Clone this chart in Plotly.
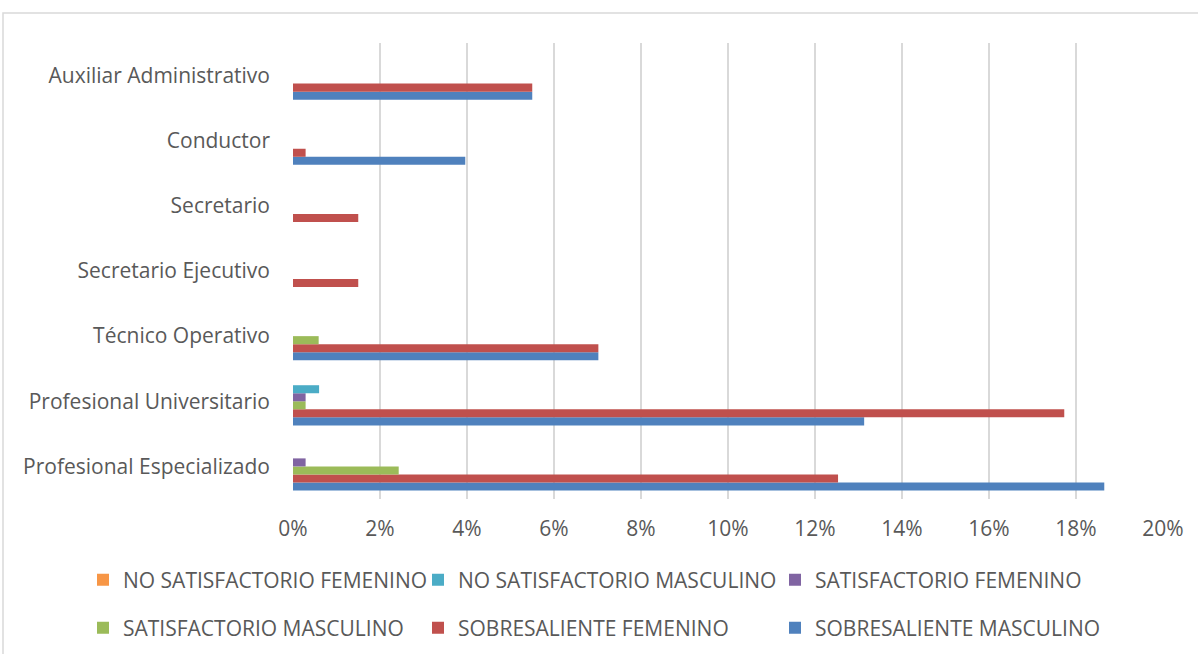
import plotly.graph_objects as go

# Job categories, listed bottom to top as they appear on the axis
categories = [
    "Profesional Especializado",
    "Profesional Universitario",
    "Técnico Operativo",
    "Secretario Ejecutivo",
    "Secretario",
    "Conductor",
    "Auxiliar Administrativo",
]

# Percentage of staff per rating and sex (same order as categories)
sobresaliente_masculino = [18.65, 13.13, 7.02, 0, 0, 3.96, 5.50]
sobresaliente_femenino = [12.53, 17.73, 7.02, 1.50, 1.50, 0.29, 5.50]
satisfactorio_masculino = [2.43, 0.29, 0.59, 0, 0, 0, 0]
satisfactorio_femenino = [0.29, 0.29, 0, 0, 0, 0, 0]
no_satisfactorio_masculino = [0, 0.60, 0, 0, 0, 0, 0]
no_satisfactorio_femenino = [0, 0, 0, 0, 0, 0, 0]

x_tick_values = [0, 2, 4, 6, 8, 10, 12, 14, 16, 18, 20]
x_tick_labels = ["0%", "2%", "4%", "6%", "8%", "10%", "12%", "14%", "16%", "18%", "20%"]

FONT = "'Open Sans', sans-serif"
TEXT = "#595959"
FS = 21

# (name, values, colour, legend id); first trace sits lowest in each group
series = [
    ("SOBRESALIENTE MASCULINO", sobresaliente_masculino, "#4F81BD", "legend6"),
    ("SOBRESALIENTE FEMENINO", sobresaliente_femenino, "#C0504D", "legend5"),
    ("SATISFACTORIO MASCULINO", satisfactorio_masculino, "#9BBB59", "legend4"),
    ("SATISFACTORIO FEMENINO", satisfactorio_femenino, "#8064A2", "legend3"),
    ("NO SATISFACTORIO MASCULINO", no_satisfactorio_masculino, "#4BACC6", "legend2"),
    ("NO SATISFACTORIO FEMENINO", no_satisfactorio_femenino, "#F79646", "legend"),
]

fig = go.Figure()
for name, vals, color, leg in series:
    fig.add_trace(go.Bar(
        y=categories, x=vals, name=name, orientation="h",
        marker=dict(color=color, line=dict(width=0)),
        legend=leg,
    ))

# Plot area in pixels
W, H = 1198, 654
L, R, T, B = 293, 35, 43, 155
pw, ph = W - L - R, H - T - B


def px_x(p):
    return (p - L) / pw


def px_y(p):
    return (H - B - p) / ph


# Legend entries placed on a 3 x 2 grid
legend_pos = {
    "legend": (105, 580),
    "legend2": (440, 580),
    "legend3": (797, 580),
    "legend4": (105, 628),
    "legend5": (440, 628),
    "legend6": (797, 628),
}
legend_layout = {}
for key, (lx, ly) in legend_pos.items():
    legend_layout[key] = dict(
        x=px_x(lx - 22), y=px_y(ly), xanchor="left", yanchor="middle",
        bgcolor="rgba(0,0,0,0)", borderwidth=0,
        font=dict(family=FONT, size=FS, color=TEXT),
        itemclick=False, itemdoubleclick=False,
    )

fig.update_layout(
    width=W, height=H,
    margin=dict(l=L, r=R, t=T, b=B, pad=0, autoexpand=False),
    paper_bgcolor="white", plot_bgcolor="white",
    barmode="group", bargap=0.26, bargroupgap=0,
    font=dict(family=FONT, size=FS, color=TEXT),
    showlegend=True,
    **legend_layout,
    xaxis=dict(
        range=[0, 20], tickmode="array",
        tickvals=x_tick_values, ticktext=x_tick_labels,
        showgrid=True, gridcolor="#D9D9D9", gridwidth=1.5,
        zeroline=False, showline=False, ticks="",
        tickfont=dict(family=FONT, size=FS, color=TEXT),
        ticklabelstandoff=15, fixedrange=True,
    ),
    yaxis=dict(
        categoryorder="array", categoryarray=categories,
        showgrid=False, zeroline=False, showline=False, ticks="",
        tickfont=dict(family=FONT, size=FS, color=TEXT),
        ticklabelstandoff=22, fixedrange=True,
    ),
    shapes=[
        # chart frame
        dict(type="rect", xref="paper", yref="paper",
             x0=px_x(3), x1=px_x(1250), y0=px_y(700), y1=px_y(13),
             line=dict(color="#D9D9D9", width=1.5), fillcolor="rgba(0,0,0,0)",
             layer="below"),
    ],
)

fig.write_html("out.html", config={"displayModeBar": False})
